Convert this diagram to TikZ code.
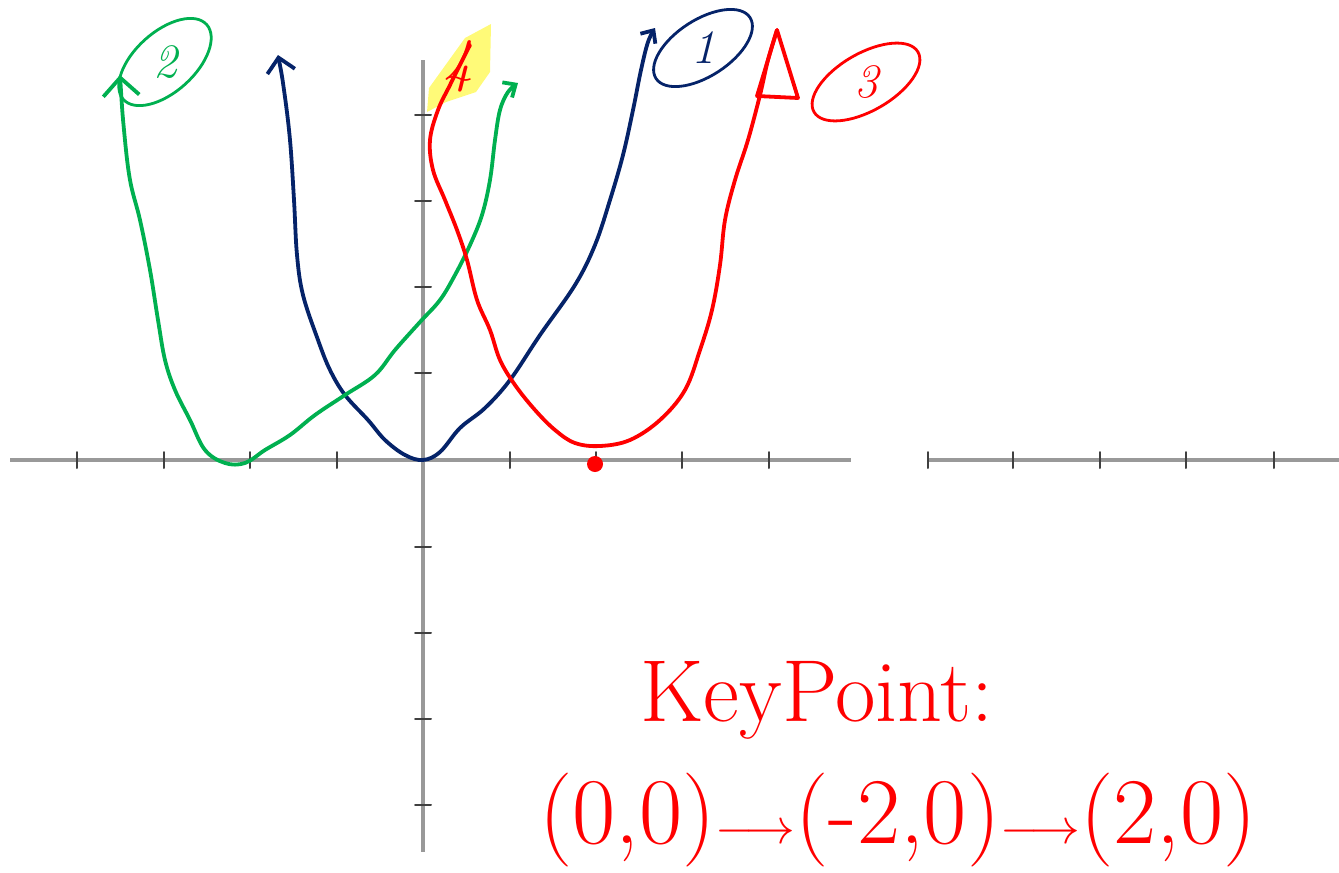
\documentclass[tikz,border=0pt]{standalone}
\usepackage{graphicx}
\usetikzlibrary{arrows.meta,shapes.geometric}
\definecolor{penblue}{RGB}{5,35,105}
\definecolor{pengreen}{RGB}{0,176,80}
\definecolor{penred}{RGB}{255,0,0}
\definecolor{hilite}{RGB}{255,250,120}
\begin{document}
\begin{tikzpicture}[x=0.5pt,y=-0.5pt,line width=1.9pt,line cap=round,line join=round,
  axis/.style={black!40,line width=2pt,line cap=butt},
  tick/.style={black!75,line width=1pt},
  tag/.style={ellipse,draw,line width=1.4pt,inner sep=0pt,font=\fontsize{24}{26}\selectfont\itshape},
  every node/.style={inner sep=1pt}]
\useasboundingbox (0,0) rectangle (1339,873);
\coordinate (O) at (423,460);
% axes
\draw[axis] (423,60) -- (423,852);
\draw[axis] (10,460) -- (851,460);
\draw[axis] (928,460) -- (1339,460);
\foreach \t in {77,164,250,337,510,596,682,769,928,1013,1100,1186,1274}
  \draw[tick] (\t,452) -- (\t,468);
\foreach \t in {115,201,287,373,547,633,719,805}
  \draw[tick] (415,\t) -- (431,\t);
% highlight
\fill[hilite] (427,112) -- (429,88) -- (465,38) -- (491,24) -- (490,72) -- (476,92) -- (446,102) -- cycle;
% curve 1
\draw[penblue,{Straight Barb[length=7pt,width=14pt]}-{Straight Barb[length=5pt,width=9pt]}] plot[smooth,tension=0.6] coordinates {(278,55) (284,90) (290,140) (294,200) (297,255) (303,295) (318,340) (330,370) (345,395) (368,420) (385,440) (405,455) (423,460) (440,452) (460,428) (485,408) (510,380) (540,335) (575,285) (595,245) (610,200) (623,155) (633,110) (641,70) (648,42) (655,28)};
% curve 2
\draw[pengreen,{Straight Barb[length=9pt,width=18pt]}-{Straight Barb[length=5pt,width=9pt]}] plot[smooth,tension=0.6] coordinates {(120,75) (124,130) (130,180) (140,220) (150,270) (158,320) (165,360) (175,390) (190,420) (205,450) (225,463) (245,463) (265,450) (290,435) (315,415) (345,395) (375,375) (395,350) (420,322) (440,300) (455,275) (470,245) (482,215) (490,180) (495,140) (500,110) (508,92) (518,83)};
% curve 3
\draw[penred] plot[smooth,tension=0.6] coordinates {(470,45) (450,85) (438,110) (430,140) (433,170) (445,200) (457,230) (467,260) (477,300) (490,330) (500,360) (515,385) (535,410) (555,430) (575,443) (600,446) (630,440) (660,420) (685,390) (700,350) (712,310) (720,265) (725,220) (735,180) (748,140) (760,95) (768,60) (777,30)};
\draw[penred] (777,30) -- (798,98) -- (757,96) -- cycle;
\fill[penred] (595,464) circle (8);
% labels
\node[tag,draw=penblue,text=penblue,minimum width=56pt,minimum height=27pt,rotate=33] (L1) at (703,48) {\rotatebox{-33}{1}};
\node[tag,draw=pengreen,text=pengreen,minimum width=56pt,minimum height=30pt,rotate=42] (L2) at (165,62) {\rotatebox{-42}{2}};
\node[tag,draw=penred,text=penred,minimum width=60pt,minimum height=28pt,rotate=30] (L3) at (866,82) {\rotatebox{-30}{3}};
\node[text=penred,font=\fontsize{30}{32}\selectfont\itshape] (L4) at (458,66) {4};
\node[text=penred,font=\fontsize{44}{48}\selectfont] (K) at (817,700) {KeyPoint:};
\node[text=penred,font=\fontsize{47}{50}\selectfont] (P) at (898,820) {(0,0)$\longrightarrow$(-2,0)$\longrightarrow$(2,0)};
\end{tikzpicture}
\end{document}
